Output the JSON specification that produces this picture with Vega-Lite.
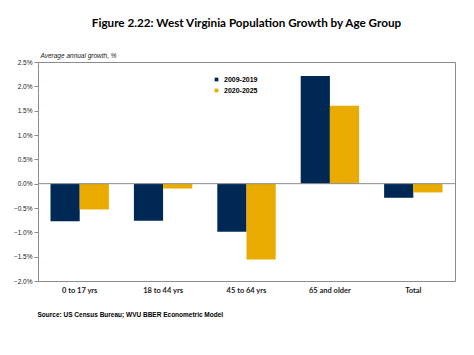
{
  "$schema": "https://vega.github.io/schema/vega-lite/v6.json",
  "autosize": "none",
  "width": 417,
  "height": 219,
  "padding": {"left": 38, "top": 62, "right": 19, "bottom": 74},
  "background": "white",
  "title": {
    "text": "Figure 2.22: West Virginia Population Growth by Age Group",
    "font": "Lato",
    "fontSize": 11.7,
    "fontWeight": "bold",
    "color": "#000000",
    "anchor": "middle",
    "offset": 22,
    "frame": "group"
  },
  "config": {
    "view": {"stroke": "#8c8c8c", "strokeWidth": 1},
    "font": "Liberation Sans"
  },
  "data": {
    "values": [
      {"group": "0 to 17 yrs", "period": "2009-2019", "value": -0.77},
      {"group": "0 to 17 yrs", "period": "2020-2025", "value": -0.53},
      {"group": "18 to 44 yrs", "period": "2009-2019", "value": -0.76},
      {"group": "18 to 44 yrs", "period": "2020-2025", "value": -0.1},
      {"group": "45 to 64 yrs", "period": "2009-2019", "value": -0.99},
      {"group": "45 to 64 yrs", "period": "2020-2025", "value": -1.56},
      {"group": "65 and older", "period": "2009-2019", "value": 2.21},
      {"group": "65 and older", "period": "2020-2025", "value": 1.6},
      {"group": "Total", "period": "2009-2019", "value": -0.29},
      {"group": "Total", "period": "2020-2025", "value": -0.18}
    ]
  },
  "layer": [
    {
      "mark": {"type": "bar"},
      "encoding": {
        "x": {
          "field": "group",
          "type": "nominal",
          "sort": null,
          "scale": {"paddingInner": 0.3, "paddingOuter": 0.15},
          "axis": {
            "title": "Source: US Census Bureau; WVU BBER Econometric Model",
            "titleFont": "Liberation Sans",
            "titleFontSize": 6.5,
            "titleFontWeight": "bold",
            "titleColor": "#000000",
            "titleAnchor": "start",
            "titleAlign": "left",
            "titleX": -1,
            "titleY": 30,
            "labelAngle": 0,
            "labelFont": "Lato",
            "labelFontSize": 7.5,
            "labelFontWeight": "bold",
            "labelColor": "#1a1a1a",
            "labelPadding": 5,
            "ticks": false,
            "domain": false
          }
        },
        "xOffset": {"field": "period", "type": "nominal"},
        "y": {
          "field": "value",
          "type": "quantitative",
          "scale": {"domain": [-2.0, 2.5], "nice": false},
          "axis": {
            "values": [-2.0, -1.5, -1.0, -0.5, 0.0, 0.5, 1.0, 1.5, 2.0, 2.5],
            "labelExpr": "format(datum.value, '.1f') + '%'",
            "labelOverlap": false,
            "labelBound": false,
            "grid": false,
            "title": "Average annual  growth, %",
            "titleAngle": 0,
            "titleAlign": "left",
            "titleBaseline": "bottom",
            "titleX": 2,
            "titleY": -4,
            "titleFont": "Liberation Sans",
            "titleFontSize": 6.5,
            "titleFontStyle": "italic",
            "titleFontWeight": "normal",
            "titleColor": "#1a1a1a",
            "labelFont": "Liberation Sans",
            "labelFontSize": 6.5,
            "labelColor": "#1a1a1a",
            "tickSize": 4,
            "tickColor": "#8c8c8c",
            "domainColor": "#8c8c8c",
            "labelPadding": 2
          }
        },
        "color": {
          "field": "period",
          "type": "nominal",
          "scale": {"domain": ["2009-2019", "2020-2025"], "range": ["#002855", "#EAAB00"]},
          "legend": {
            "title": null,
            "orient": "none",
            "legendX": 175,
            "legendY": 14,
            "symbolType": "square",
            "symbolSize": 14,
            "labelFont": "Liberation Sans",
            "labelFontSize": 7,
            "labelFontWeight": "bold",
            "labelColor": "#000000",
            "labelOffset": 4,
            "rowPadding": 3
          }
        }
      }
    },
    {
      "data": {"values": [{"zero": 0}]},
      "mark": {"type": "rule", "color": "#8c8c8c", "strokeWidth": 1},
      "encoding": {
        "y": {
          "field": "zero",
          "type": "quantitative",
          "axis": {
            "values": [-2.0, -1.5, -1.0, -0.5, 0.0, 0.5, 1.0, 1.5, 2.0, 2.5],
            "labelExpr": "format(datum.value, '.1f') + '%'",
            "labelOverlap": false,
            "labelBound": false,
            "grid": false,
            "title": "Average annual  growth, %",
            "titleAngle": 0,
            "titleAlign": "left",
            "titleBaseline": "bottom",
            "titleX": 2,
            "titleY": -4,
            "titleFont": "Liberation Sans",
            "titleFontSize": 6.5,
            "titleFontStyle": "italic",
            "titleFontWeight": "normal",
            "titleColor": "#1a1a1a",
            "labelFont": "Liberation Sans",
            "labelFontSize": 6.5,
            "labelColor": "#1a1a1a",
            "tickSize": 4,
            "tickColor": "#8c8c8c",
            "domainColor": "#8c8c8c",
            "labelPadding": 2
          }
        }
      }
    }
  ]
}
